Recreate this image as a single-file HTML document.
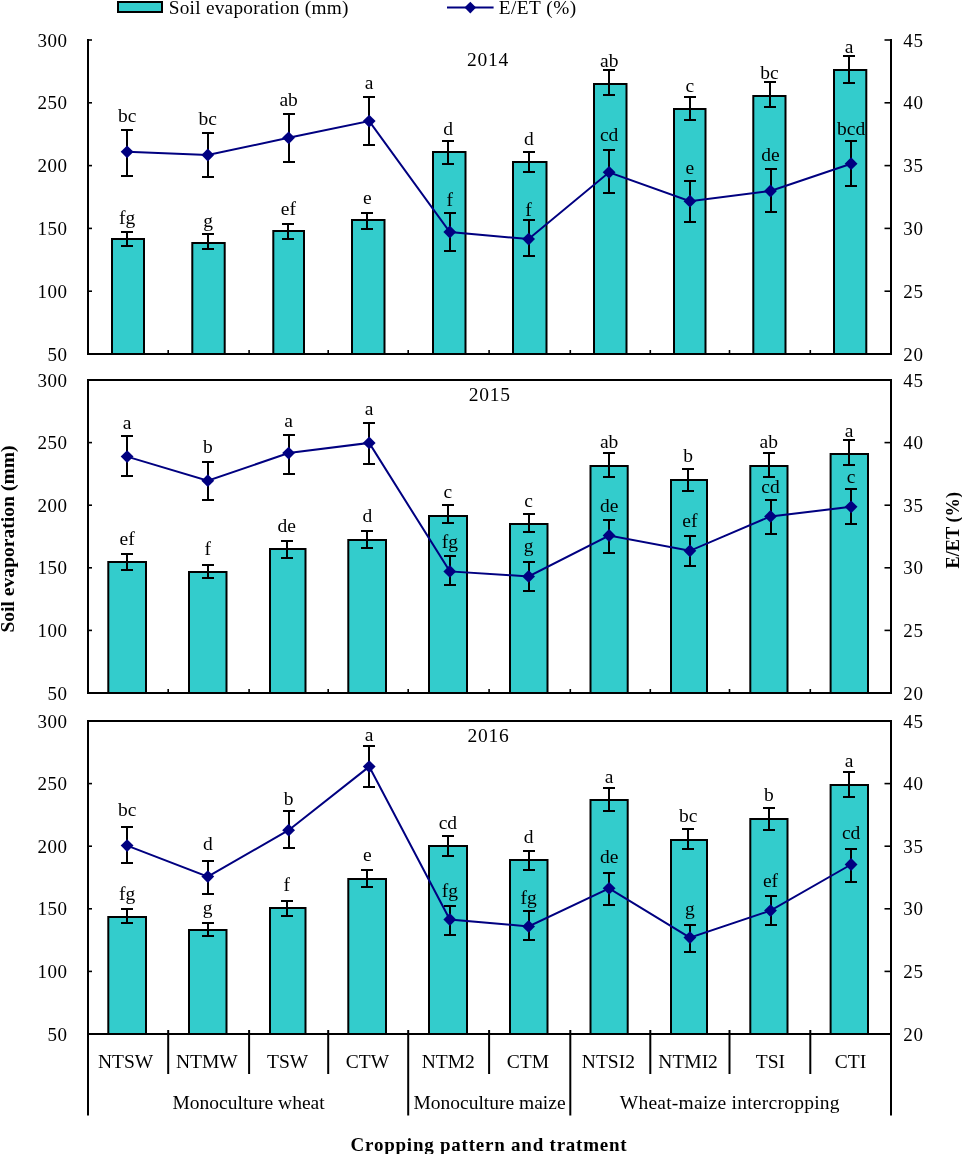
<!DOCTYPE html>
<html><head><meta charset="utf-8"><style>
html,body{margin:0;padding:0;background:#fff;overflow:hidden;}
svg{display:block;will-change:transform;}
text{font-family:"Liberation Serif", serif;fill:#000;}
</style></head><body>
<svg width="962" height="1154" viewBox="0 0 962 1154">
<rect x="0" y="0" width="962" height="1154" fill="#fff"/>
<rect x="112" y="239" width="32" height="115.0" fill="#33CCCC" stroke="#000" stroke-width="2"/>
<rect x="192.3" y="243" width="32.4" height="111.0" fill="#33CCCC" stroke="#000" stroke-width="2"/>
<rect x="273.3" y="231" width="30.7" height="123.0" fill="#33CCCC" stroke="#000" stroke-width="2"/>
<rect x="352" y="220" width="32.5" height="134.0" fill="#33CCCC" stroke="#000" stroke-width="2"/>
<rect x="433" y="152" width="32.5" height="202.0" fill="#33CCCC" stroke="#000" stroke-width="2"/>
<rect x="513" y="162" width="33.5" height="192.0" fill="#33CCCC" stroke="#000" stroke-width="2"/>
<rect x="594" y="84" width="32.5" height="270.0" fill="#33CCCC" stroke="#000" stroke-width="2"/>
<rect x="674" y="109" width="31.5" height="245.0" fill="#33CCCC" stroke="#000" stroke-width="2"/>
<rect x="753.3" y="96" width="32.2" height="258.0" fill="#33CCCC" stroke="#000" stroke-width="2"/>
<rect x="834" y="70" width="32.3" height="284.0" fill="#33CCCC" stroke="#000" stroke-width="2"/>
<line x1="88" y1="39.0" x2="88" y2="355.0" stroke="#000" stroke-width="2"/>
<line x1="891" y1="39.0" x2="891" y2="355.0" stroke="#000" stroke-width="2"/>
<line x1="87" y1="354.0" x2="892" y2="354.0" stroke="#000" stroke-width="2"/>
<line x1="88" y1="40.00" x2="92" y2="40.00" stroke="#000" stroke-width="1.6"/>
<line x1="884.5" y1="40.00" x2="891" y2="40.00" stroke="#000" stroke-width="1.6"/>
<text x="67.7" y="46.50" text-anchor="end" font-size="19" letter-spacing="0.6">300</text>
<text x="903.3" y="46.50" font-size="19" letter-spacing="0.6">45</text>
<line x1="88" y1="102.80" x2="92" y2="102.80" stroke="#000" stroke-width="1.6"/>
<line x1="884.5" y1="102.80" x2="891" y2="102.80" stroke="#000" stroke-width="1.6"/>
<text x="67.7" y="109.30" text-anchor="end" font-size="19" letter-spacing="0.6">250</text>
<text x="903.3" y="109.30" font-size="19" letter-spacing="0.6">40</text>
<line x1="88" y1="165.60" x2="92" y2="165.60" stroke="#000" stroke-width="1.6"/>
<line x1="884.5" y1="165.60" x2="891" y2="165.60" stroke="#000" stroke-width="1.6"/>
<text x="67.7" y="172.10" text-anchor="end" font-size="19" letter-spacing="0.6">200</text>
<text x="903.3" y="172.10" font-size="19" letter-spacing="0.6">35</text>
<line x1="88" y1="228.40" x2="92" y2="228.40" stroke="#000" stroke-width="1.6"/>
<line x1="884.5" y1="228.40" x2="891" y2="228.40" stroke="#000" stroke-width="1.6"/>
<text x="67.7" y="234.90" text-anchor="end" font-size="19" letter-spacing="0.6">150</text>
<text x="903.3" y="234.90" font-size="19" letter-spacing="0.6">30</text>
<line x1="88" y1="291.20" x2="92" y2="291.20" stroke="#000" stroke-width="1.6"/>
<line x1="884.5" y1="291.20" x2="891" y2="291.20" stroke="#000" stroke-width="1.6"/>
<text x="67.7" y="297.70" text-anchor="end" font-size="19" letter-spacing="0.6">100</text>
<text x="903.3" y="297.70" font-size="19" letter-spacing="0.6">25</text>
<line x1="88" y1="354.00" x2="92" y2="354.00" stroke="#000" stroke-width="1.6"/>
<line x1="884.5" y1="354.00" x2="891" y2="354.00" stroke="#000" stroke-width="1.6"/>
<text x="67.7" y="360.50" text-anchor="end" font-size="19" letter-spacing="0.6">50</text>
<text x="903.3" y="360.50" font-size="19" letter-spacing="0.6">20</text>
<line x1="168.20" y1="350.0" x2="168.20" y2="354.0" stroke="#000" stroke-width="1.6"/>
<line x1="249.10" y1="350.0" x2="249.10" y2="354.0" stroke="#000" stroke-width="1.6"/>
<line x1="328.20" y1="350.0" x2="328.20" y2="354.0" stroke="#000" stroke-width="1.6"/>
<line x1="408.20" y1="350.0" x2="408.20" y2="354.0" stroke="#000" stroke-width="1.6"/>
<line x1="489.10" y1="350.0" x2="489.10" y2="354.0" stroke="#000" stroke-width="1.6"/>
<line x1="570.30" y1="350.0" x2="570.30" y2="354.0" stroke="#000" stroke-width="1.6"/>
<line x1="650.30" y1="350.0" x2="650.30" y2="354.0" stroke="#000" stroke-width="1.6"/>
<line x1="729.50" y1="350.0" x2="729.50" y2="354.0" stroke="#000" stroke-width="1.6"/>
<line x1="810.30" y1="350.0" x2="810.30" y2="354.0" stroke="#000" stroke-width="1.6"/>
<text x="488.0" y="65.8" text-anchor="middle" font-size="19.5" letter-spacing="0.75">2014</text>
<path d="M127,232V246M121,232H133M121,246H133" stroke="#000" stroke-width="2" fill="none"/>
<text x="127.10" y="224.20" text-anchor="middle" font-size="19.5">fg</text>
<path d="M208,234V249M202,234H214M202,249H214" stroke="#000" stroke-width="2" fill="none"/>
<text x="208.00" y="227.00" text-anchor="middle" font-size="19.5">g</text>
<path d="M288,224V239M282,224H294M282,239H294" stroke="#000" stroke-width="2" fill="none"/>
<text x="288.40" y="214.70" text-anchor="middle" font-size="19.5">ef</text>
<path d="M367,213V229M361,213H373M361,229H373" stroke="#000" stroke-width="2" fill="none"/>
<text x="367.40" y="204.00" text-anchor="middle" font-size="19.5">e</text>
<path d="M448,141V164M442,141H454M442,164H454" stroke="#000" stroke-width="2" fill="none"/>
<text x="448.00" y="135.40" text-anchor="middle" font-size="19.5">d</text>
<path d="M529,152V172M523,152H535M523,172H535" stroke="#000" stroke-width="2" fill="none"/>
<text x="528.80" y="145.40" text-anchor="middle" font-size="19.5">d</text>
<path d="M609,70V95M603,70H615M603,95H615" stroke="#000" stroke-width="2" fill="none"/>
<text x="609.20" y="67.00" text-anchor="middle" font-size="19.5">ab</text>
<path d="M690,97V120M684,97H696M684,120H696" stroke="#000" stroke-width="2" fill="none"/>
<text x="689.80" y="92.10" text-anchor="middle" font-size="19.5">c</text>
<path d="M770,82V107M764,82H776M764,107H776" stroke="#000" stroke-width="2" fill="none"/>
<text x="769.50" y="78.70" text-anchor="middle" font-size="19.5">bc</text>
<path d="M849,56V83M843,56H855M843,83H855" stroke="#000" stroke-width="2" fill="none"/>
<text x="849.20" y="52.90" text-anchor="middle" font-size="19.5">a</text>
<polyline points="127.10,151.80 207.80,155.00 288.60,137.80 369.20,121.10 449.80,232.00 528.60,239.06 609.10,172.30 689.90,201.20 770.50,191.00 851.10,163.70" fill="none" stroke="#000080" stroke-width="2"/>
<path d="M127,130V176M121,130H133M121,176H133" stroke="#000" stroke-width="2" fill="none"/>
<path d="M120.70,151.80 L127.10,145.40 L133.50,151.80 L127.10,158.20Z" fill="#000080"/>
<text x="127.10" y="121.60" text-anchor="middle" font-size="19.5">bc</text>
<path d="M208,133V177M202,133H214M202,177H214" stroke="#000" stroke-width="2" fill="none"/>
<path d="M201.40,155.00 L207.80,148.60 L214.20,155.00 L207.80,161.40Z" fill="#000080"/>
<text x="207.80" y="125.00" text-anchor="middle" font-size="19.5">bc</text>
<path d="M289,114V162M283,114H295M283,162H295" stroke="#000" stroke-width="2" fill="none"/>
<path d="M282.20,137.80 L288.60,131.40 L295.00,137.80 L288.60,144.20Z" fill="#000080"/>
<text x="288.60" y="106.20" text-anchor="middle" font-size="19.5">ab</text>
<path d="M369,97V145M363,97H375M363,145H375" stroke="#000" stroke-width="2" fill="none"/>
<path d="M362.80,121.10 L369.20,114.70 L375.60,121.10 L369.20,127.50Z" fill="#000080"/>
<text x="369.20" y="89.00" text-anchor="middle" font-size="19.5">a</text>
<path d="M450,213V251M444,213H456M444,251H456" stroke="#000" stroke-width="2" fill="none"/>
<path d="M443.40,232.00 L449.80,225.60 L456.20,232.00 L449.80,238.40Z" fill="#000080"/>
<text x="449.80" y="206.00" text-anchor="middle" font-size="19.5">f</text>
<path d="M529,220V256M523,220H535M523,256H535" stroke="#000" stroke-width="2" fill="none"/>
<path d="M522.20,239.06 L528.60,232.66 L535.00,239.06 L528.60,245.46Z" fill="#000080"/>
<text x="528.60" y="216.00" text-anchor="middle" font-size="19.5">f</text>
<path d="M609,150V193M603,150H615M603,193H615" stroke="#000" stroke-width="2" fill="none"/>
<path d="M602.70,172.30 L609.10,165.90 L615.50,172.30 L609.10,178.70Z" fill="#000080"/>
<text x="609.10" y="141.30" text-anchor="middle" font-size="19.5">cd</text>
<path d="M690,181V222M684,181H696M684,222H696" stroke="#000" stroke-width="2" fill="none"/>
<path d="M683.50,201.20 L689.90,194.80 L696.30,201.20 L689.90,207.60Z" fill="#000080"/>
<text x="689.90" y="174.20" text-anchor="middle" font-size="19.5">e</text>
<path d="M771,169V212M765,169H777M765,212H777" stroke="#000" stroke-width="2" fill="none"/>
<path d="M764.10,191.00 L770.50,184.60 L776.90,191.00 L770.50,197.40Z" fill="#000080"/>
<text x="770.50" y="161.00" text-anchor="middle" font-size="19.5">de</text>
<path d="M851,141V186M845,141H857M845,186H857" stroke="#000" stroke-width="2" fill="none"/>
<path d="M844.70,163.70 L851.10,157.30 L857.50,163.70 L851.10,170.10Z" fill="#000080"/>
<text x="851.10" y="135.30" text-anchor="middle" font-size="19.5">bcd</text>
<rect x="108.3" y="562" width="37.7" height="131.0" fill="#33CCCC" stroke="#000" stroke-width="2"/>
<rect x="189" y="572" width="37.5" height="121.0" fill="#33CCCC" stroke="#000" stroke-width="2"/>
<rect x="270" y="549" width="35.5" height="144.0" fill="#33CCCC" stroke="#000" stroke-width="2"/>
<rect x="348.3" y="540" width="37.7" height="153.0" fill="#33CCCC" stroke="#000" stroke-width="2"/>
<rect x="429" y="516" width="38" height="177.0" fill="#33CCCC" stroke="#000" stroke-width="2"/>
<rect x="510" y="524" width="37.5" height="169.0" fill="#33CCCC" stroke="#000" stroke-width="2"/>
<rect x="590.5" y="466" width="37.2" height="227.0" fill="#33CCCC" stroke="#000" stroke-width="2"/>
<rect x="671" y="480" width="36" height="213.0" fill="#33CCCC" stroke="#000" stroke-width="2"/>
<rect x="750.3" y="466" width="37.2" height="227.0" fill="#33CCCC" stroke="#000" stroke-width="2"/>
<rect x="830.6" y="454" width="37.4" height="239.0" fill="#33CCCC" stroke="#000" stroke-width="2"/>
<line x1="88" y1="379.0" x2="88" y2="694.0" stroke="#000" stroke-width="2"/>
<line x1="891" y1="379.0" x2="891" y2="694.0" stroke="#000" stroke-width="2"/>
<line x1="87" y1="693.0" x2="892" y2="693.0" stroke="#000" stroke-width="2"/>
<line x1="87" y1="380.0" x2="892" y2="380.0" stroke="#000" stroke-width="2"/>
<line x1="88" y1="380.00" x2="92" y2="380.00" stroke="#000" stroke-width="1.6"/>
<line x1="884.5" y1="380.00" x2="891" y2="380.00" stroke="#000" stroke-width="1.6"/>
<text x="67.7" y="386.50" text-anchor="end" font-size="19" letter-spacing="0.6">300</text>
<text x="903.3" y="386.50" font-size="19" letter-spacing="0.6">45</text>
<line x1="88" y1="442.60" x2="92" y2="442.60" stroke="#000" stroke-width="1.6"/>
<line x1="884.5" y1="442.60" x2="891" y2="442.60" stroke="#000" stroke-width="1.6"/>
<text x="67.7" y="449.10" text-anchor="end" font-size="19" letter-spacing="0.6">250</text>
<text x="903.3" y="449.10" font-size="19" letter-spacing="0.6">40</text>
<line x1="88" y1="505.20" x2="92" y2="505.20" stroke="#000" stroke-width="1.6"/>
<line x1="884.5" y1="505.20" x2="891" y2="505.20" stroke="#000" stroke-width="1.6"/>
<text x="67.7" y="511.70" text-anchor="end" font-size="19" letter-spacing="0.6">200</text>
<text x="903.3" y="511.70" font-size="19" letter-spacing="0.6">35</text>
<line x1="88" y1="567.80" x2="92" y2="567.80" stroke="#000" stroke-width="1.6"/>
<line x1="884.5" y1="567.80" x2="891" y2="567.80" stroke="#000" stroke-width="1.6"/>
<text x="67.7" y="574.30" text-anchor="end" font-size="19" letter-spacing="0.6">150</text>
<text x="903.3" y="574.30" font-size="19" letter-spacing="0.6">30</text>
<line x1="88" y1="630.40" x2="92" y2="630.40" stroke="#000" stroke-width="1.6"/>
<line x1="884.5" y1="630.40" x2="891" y2="630.40" stroke="#000" stroke-width="1.6"/>
<text x="67.7" y="636.90" text-anchor="end" font-size="19" letter-spacing="0.6">100</text>
<text x="903.3" y="636.90" font-size="19" letter-spacing="0.6">25</text>
<line x1="88" y1="693.00" x2="92" y2="693.00" stroke="#000" stroke-width="1.6"/>
<line x1="884.5" y1="693.00" x2="891" y2="693.00" stroke="#000" stroke-width="1.6"/>
<text x="67.7" y="699.50" text-anchor="end" font-size="19" letter-spacing="0.6">50</text>
<text x="903.3" y="699.50" font-size="19" letter-spacing="0.6">20</text>
<line x1="168.20" y1="689.0" x2="168.20" y2="693.0" stroke="#000" stroke-width="1.6"/>
<line x1="249.10" y1="689.0" x2="249.10" y2="693.0" stroke="#000" stroke-width="1.6"/>
<line x1="328.20" y1="689.0" x2="328.20" y2="693.0" stroke="#000" stroke-width="1.6"/>
<line x1="408.20" y1="689.0" x2="408.20" y2="693.0" stroke="#000" stroke-width="1.6"/>
<line x1="489.10" y1="689.0" x2="489.10" y2="693.0" stroke="#000" stroke-width="1.6"/>
<line x1="570.30" y1="689.0" x2="570.30" y2="693.0" stroke="#000" stroke-width="1.6"/>
<line x1="650.30" y1="689.0" x2="650.30" y2="693.0" stroke="#000" stroke-width="1.6"/>
<line x1="729.50" y1="689.0" x2="729.50" y2="693.0" stroke="#000" stroke-width="1.6"/>
<line x1="810.30" y1="689.0" x2="810.30" y2="693.0" stroke="#000" stroke-width="1.6"/>
<text x="489.7" y="401.0" text-anchor="middle" font-size="19.5" letter-spacing="0.75">2015</text>
<path d="M127,554V570M121,554H133M121,570H133" stroke="#000" stroke-width="2" fill="none"/>
<text x="127.10" y="544.60" text-anchor="middle" font-size="19.5">ef</text>
<path d="M208,565V578M202,565H214M202,578H214" stroke="#000" stroke-width="2" fill="none"/>
<text x="207.70" y="555.00" text-anchor="middle" font-size="19.5">f</text>
<path d="M287,541V558M281,541H293M281,558H293" stroke="#000" stroke-width="2" fill="none"/>
<text x="286.80" y="532.20" text-anchor="middle" font-size="19.5">de</text>
<path d="M367,531V548M361,531H373M361,548H373" stroke="#000" stroke-width="2" fill="none"/>
<text x="367.40" y="522.40" text-anchor="middle" font-size="19.5">d</text>
<path d="M448,505V523M442,505H454M442,523H454" stroke="#000" stroke-width="2" fill="none"/>
<text x="447.90" y="498.20" text-anchor="middle" font-size="19.5">c</text>
<path d="M529,514V532M523,514H535M523,532H535" stroke="#000" stroke-width="2" fill="none"/>
<text x="528.50" y="506.90" text-anchor="middle" font-size="19.5">c</text>
<path d="M609,453V477M603,453H615M603,477H615" stroke="#000" stroke-width="2" fill="none"/>
<text x="609.10" y="448.20" text-anchor="middle" font-size="19.5">ab</text>
<path d="M688,469V491M682,469H694M682,491H694" stroke="#000" stroke-width="2" fill="none"/>
<text x="688.10" y="462.30" text-anchor="middle" font-size="19.5">b</text>
<path d="M769,453V477M763,453H775M763,477H775" stroke="#000" stroke-width="2" fill="none"/>
<text x="768.80" y="448.30" text-anchor="middle" font-size="19.5">ab</text>
<path d="M849,440V465M843,440H855M843,465H855" stroke="#000" stroke-width="2" fill="none"/>
<text x="849.20" y="436.60" text-anchor="middle" font-size="19.5">a</text>
<polyline points="127.10,456.60 207.80,480.65 288.60,453.10 369.20,442.90 449.80,571.40 528.60,576.40 609.10,535.50 689.90,550.80 770.50,516.40 851.10,506.80" fill="none" stroke="#000080" stroke-width="2"/>
<path d="M127,436V476M121,436H133M121,476H133" stroke="#000" stroke-width="2" fill="none"/>
<path d="M120.70,456.60 L127.10,450.20 L133.50,456.60 L127.10,463.00Z" fill="#000080"/>
<text x="127.10" y="428.70" text-anchor="middle" font-size="19.5">a</text>
<path d="M208,462V500M202,462H214M202,500H214" stroke="#000" stroke-width="2" fill="none"/>
<path d="M201.40,480.65 L207.80,474.25 L214.20,480.65 L207.80,487.05Z" fill="#000080"/>
<text x="207.80" y="452.90" text-anchor="middle" font-size="19.5">b</text>
<path d="M289,435V474M283,435H295M283,474H295" stroke="#000" stroke-width="2" fill="none"/>
<path d="M282.20,453.10 L288.60,446.70 L295.00,453.10 L288.60,459.50Z" fill="#000080"/>
<text x="288.60" y="426.60" text-anchor="middle" font-size="19.5">a</text>
<path d="M369,423V464M363,423H375M363,464H375" stroke="#000" stroke-width="2" fill="none"/>
<path d="M362.80,442.90 L369.20,436.50 L375.60,442.90 L369.20,449.30Z" fill="#000080"/>
<text x="369.20" y="414.90" text-anchor="middle" font-size="19.5">a</text>
<path d="M450,556V585M444,556H456M444,585H456" stroke="#000" stroke-width="2" fill="none"/>
<path d="M443.40,571.40 L449.80,565.00 L456.20,571.40 L449.80,577.80Z" fill="#000080"/>
<text x="449.80" y="547.70" text-anchor="middle" font-size="19.5">fg</text>
<path d="M529,562V591M523,562H535M523,591H535" stroke="#000" stroke-width="2" fill="none"/>
<path d="M522.20,576.40 L528.60,570.00 L535.00,576.40 L528.60,582.80Z" fill="#000080"/>
<text x="528.60" y="552.40" text-anchor="middle" font-size="19.5">g</text>
<path d="M609,520V553M603,520H615M603,553H615" stroke="#000" stroke-width="2" fill="none"/>
<path d="M602.70,535.50 L609.10,529.10 L615.50,535.50 L609.10,541.90Z" fill="#000080"/>
<text x="609.10" y="512.20" text-anchor="middle" font-size="19.5">de</text>
<path d="M690,536V566M684,536H696M684,566H696" stroke="#000" stroke-width="2" fill="none"/>
<path d="M683.50,550.80 L689.90,544.40 L696.30,550.80 L689.90,557.20Z" fill="#000080"/>
<text x="689.90" y="526.80" text-anchor="middle" font-size="19.5">ef</text>
<path d="M771,500V534M765,500H777M765,534H777" stroke="#000" stroke-width="2" fill="none"/>
<path d="M764.10,516.40 L770.50,510.00 L776.90,516.40 L770.50,522.80Z" fill="#000080"/>
<text x="770.50" y="492.70" text-anchor="middle" font-size="19.5">cd</text>
<path d="M851,489V524M845,489H857M845,524H857" stroke="#000" stroke-width="2" fill="none"/>
<path d="M844.70,506.80 L851.10,500.40 L857.50,506.80 L851.10,513.20Z" fill="#000080"/>
<text x="851.10" y="482.50" text-anchor="middle" font-size="19.5">c</text>
<rect x="108.3" y="917" width="37.7" height="117.0" fill="#33CCCC" stroke="#000" stroke-width="2"/>
<rect x="189" y="930" width="37.5" height="104.0" fill="#33CCCC" stroke="#000" stroke-width="2"/>
<rect x="270" y="908" width="35.5" height="126.0" fill="#33CCCC" stroke="#000" stroke-width="2"/>
<rect x="348.3" y="879" width="37.7" height="155.0" fill="#33CCCC" stroke="#000" stroke-width="2"/>
<rect x="429" y="846" width="38" height="188.0" fill="#33CCCC" stroke="#000" stroke-width="2"/>
<rect x="510" y="860" width="37.5" height="174.0" fill="#33CCCC" stroke="#000" stroke-width="2"/>
<rect x="590.5" y="800" width="37.2" height="234.0" fill="#33CCCC" stroke="#000" stroke-width="2"/>
<rect x="671" y="840" width="36" height="194.0" fill="#33CCCC" stroke="#000" stroke-width="2"/>
<rect x="750.3" y="819" width="37.2" height="215.0" fill="#33CCCC" stroke="#000" stroke-width="2"/>
<rect x="830.6" y="785" width="37.4" height="249.0" fill="#33CCCC" stroke="#000" stroke-width="2"/>
<line x1="88" y1="720.0" x2="88" y2="1035.0" stroke="#000" stroke-width="2"/>
<line x1="891" y1="720.0" x2="891" y2="1035.0" stroke="#000" stroke-width="2"/>
<line x1="87" y1="1034.0" x2="892" y2="1034.0" stroke="#000" stroke-width="2"/>
<line x1="87" y1="721.0" x2="892" y2="721.0" stroke="#000" stroke-width="2"/>
<line x1="88" y1="721.00" x2="92" y2="721.00" stroke="#000" stroke-width="1.6"/>
<line x1="884.5" y1="721.00" x2="891" y2="721.00" stroke="#000" stroke-width="1.6"/>
<text x="67.7" y="727.50" text-anchor="end" font-size="19" letter-spacing="0.6">300</text>
<text x="903.3" y="727.50" font-size="19" letter-spacing="0.6">45</text>
<line x1="88" y1="783.60" x2="92" y2="783.60" stroke="#000" stroke-width="1.6"/>
<line x1="884.5" y1="783.60" x2="891" y2="783.60" stroke="#000" stroke-width="1.6"/>
<text x="67.7" y="790.10" text-anchor="end" font-size="19" letter-spacing="0.6">250</text>
<text x="903.3" y="790.10" font-size="19" letter-spacing="0.6">40</text>
<line x1="88" y1="846.20" x2="92" y2="846.20" stroke="#000" stroke-width="1.6"/>
<line x1="884.5" y1="846.20" x2="891" y2="846.20" stroke="#000" stroke-width="1.6"/>
<text x="67.7" y="852.70" text-anchor="end" font-size="19" letter-spacing="0.6">200</text>
<text x="903.3" y="852.70" font-size="19" letter-spacing="0.6">35</text>
<line x1="88" y1="908.80" x2="92" y2="908.80" stroke="#000" stroke-width="1.6"/>
<line x1="884.5" y1="908.80" x2="891" y2="908.80" stroke="#000" stroke-width="1.6"/>
<text x="67.7" y="915.30" text-anchor="end" font-size="19" letter-spacing="0.6">150</text>
<text x="903.3" y="915.30" font-size="19" letter-spacing="0.6">30</text>
<line x1="88" y1="971.40" x2="92" y2="971.40" stroke="#000" stroke-width="1.6"/>
<line x1="884.5" y1="971.40" x2="891" y2="971.40" stroke="#000" stroke-width="1.6"/>
<text x="67.7" y="977.90" text-anchor="end" font-size="19" letter-spacing="0.6">100</text>
<text x="903.3" y="977.90" font-size="19" letter-spacing="0.6">25</text>
<line x1="88" y1="1034.00" x2="92" y2="1034.00" stroke="#000" stroke-width="1.6"/>
<line x1="884.5" y1="1034.00" x2="891" y2="1034.00" stroke="#000" stroke-width="1.6"/>
<text x="67.7" y="1040.50" text-anchor="end" font-size="19" letter-spacing="0.6">50</text>
<text x="903.3" y="1040.50" font-size="19" letter-spacing="0.6">20</text>
<text x="488.4" y="742.3" text-anchor="middle" font-size="19.5" letter-spacing="0.75">2016</text>
<path d="M127,909V923M121,909H133M121,923H133" stroke="#000" stroke-width="2" fill="none"/>
<text x="127.10" y="899.90" text-anchor="middle" font-size="19.5">fg</text>
<path d="M208,923V936M202,923H214M202,936H214" stroke="#000" stroke-width="2" fill="none"/>
<text x="207.70" y="913.50" text-anchor="middle" font-size="19.5">g</text>
<path d="M287,901V916M281,901H293M281,916H293" stroke="#000" stroke-width="2" fill="none"/>
<text x="286.80" y="890.90" text-anchor="middle" font-size="19.5">f</text>
<path d="M367,870V887M361,870H373M361,887H373" stroke="#000" stroke-width="2" fill="none"/>
<text x="367.40" y="860.80" text-anchor="middle" font-size="19.5">e</text>
<path d="M448,836V856M442,836H454M442,856H454" stroke="#000" stroke-width="2" fill="none"/>
<text x="447.90" y="828.80" text-anchor="middle" font-size="19.5">cd</text>
<path d="M529,851V870M523,851H535M523,870H535" stroke="#000" stroke-width="2" fill="none"/>
<text x="528.50" y="842.70" text-anchor="middle" font-size="19.5">d</text>
<path d="M609,788V811M603,788H615M603,811H615" stroke="#000" stroke-width="2" fill="none"/>
<text x="609.10" y="782.70" text-anchor="middle" font-size="19.5">a</text>
<path d="M688,829V849M682,829H694M682,849H694" stroke="#000" stroke-width="2" fill="none"/>
<text x="688.10" y="822.10" text-anchor="middle" font-size="19.5">bc</text>
<path d="M769,808V830M763,808H775M763,830H775" stroke="#000" stroke-width="2" fill="none"/>
<text x="768.80" y="801.40" text-anchor="middle" font-size="19.5">b</text>
<path d="M849,772V797M843,772H855M843,797H855" stroke="#000" stroke-width="2" fill="none"/>
<text x="849.20" y="767.30" text-anchor="middle" font-size="19.5">a</text>
<polyline points="127.10,845.60 207.80,876.60 288.60,830.20 369.20,766.60 449.80,919.50 528.60,926.40 609.10,888.30 689.90,937.60 770.50,910.60 851.10,864.50" fill="none" stroke="#000080" stroke-width="2"/>
<path d="M127,827V863M121,827H133M121,863H133" stroke="#000" stroke-width="2" fill="none"/>
<path d="M120.70,845.60 L127.10,839.20 L133.50,845.60 L127.10,852.00Z" fill="#000080"/>
<text x="127.10" y="815.50" text-anchor="middle" font-size="19.5">bc</text>
<path d="M208,861V894M202,861H214M202,894H214" stroke="#000" stroke-width="2" fill="none"/>
<path d="M201.40,876.60 L207.80,870.20 L214.20,876.60 L207.80,883.00Z" fill="#000080"/>
<text x="207.80" y="849.70" text-anchor="middle" font-size="19.5">d</text>
<path d="M289,811V848M283,811H295M283,848H295" stroke="#000" stroke-width="2" fill="none"/>
<path d="M282.20,830.20 L288.60,823.80 L295.00,830.20 L288.60,836.60Z" fill="#000080"/>
<text x="288.60" y="804.80" text-anchor="middle" font-size="19.5">b</text>
<path d="M369,746V787M363,746H375M363,787H375" stroke="#000" stroke-width="2" fill="none"/>
<path d="M362.80,766.60 L369.20,760.20 L375.60,766.60 L369.20,773.00Z" fill="#000080"/>
<text x="369.20" y="740.50" text-anchor="middle" font-size="19.5">a</text>
<path d="M450,906V935M444,906H456M444,935H456" stroke="#000" stroke-width="2" fill="none"/>
<path d="M443.40,919.50 L449.80,913.10 L456.20,919.50 L449.80,925.90Z" fill="#000080"/>
<text x="449.80" y="897.20" text-anchor="middle" font-size="19.5">fg</text>
<path d="M529,911V940M523,911H535M523,940H535" stroke="#000" stroke-width="2" fill="none"/>
<path d="M522.20,926.40 L528.60,920.00 L535.00,926.40 L528.60,932.80Z" fill="#000080"/>
<text x="528.60" y="903.80" text-anchor="middle" font-size="19.5">fg</text>
<path d="M609,873V905M603,873H615M603,905H615" stroke="#000" stroke-width="2" fill="none"/>
<path d="M602.70,888.30 L609.10,881.90 L615.50,888.30 L609.10,894.70Z" fill="#000080"/>
<text x="609.10" y="863.00" text-anchor="middle" font-size="19.5">de</text>
<path d="M690,925V952M684,925H696M684,952H696" stroke="#000" stroke-width="2" fill="none"/>
<path d="M683.50,937.60 L689.90,931.20 L696.30,937.60 L689.90,944.00Z" fill="#000080"/>
<text x="689.90" y="914.70" text-anchor="middle" font-size="19.5">g</text>
<path d="M771,896V925M765,896H777M765,925H777" stroke="#000" stroke-width="2" fill="none"/>
<path d="M764.10,910.60 L770.50,904.20 L776.90,910.60 L770.50,917.00Z" fill="#000080"/>
<text x="770.50" y="887.00" text-anchor="middle" font-size="19.5">ef</text>
<path d="M851,849V882M845,849H857M845,882H857" stroke="#000" stroke-width="2" fill="none"/>
<path d="M844.70,864.50 L851.10,858.10 L857.50,864.50 L851.10,870.90Z" fill="#000080"/>
<text x="851.10" y="839.00" text-anchor="middle" font-size="19.5">cd</text>
<line x1="168.20" y1="1030.0" x2="168.20" y2="1074" stroke="#000" stroke-width="2"/>
<line x1="249.10" y1="1030.0" x2="249.10" y2="1074" stroke="#000" stroke-width="2"/>
<line x1="328.20" y1="1030.0" x2="328.20" y2="1074" stroke="#000" stroke-width="2"/>
<line x1="408.20" y1="1030.0" x2="408.20" y2="1115.5" stroke="#000" stroke-width="2"/>
<line x1="489.10" y1="1030.0" x2="489.10" y2="1074" stroke="#000" stroke-width="2"/>
<line x1="570.30" y1="1030.0" x2="570.30" y2="1115.5" stroke="#000" stroke-width="2"/>
<line x1="650.30" y1="1030.0" x2="650.30" y2="1074" stroke="#000" stroke-width="2"/>
<line x1="729.50" y1="1030.0" x2="729.50" y2="1074" stroke="#000" stroke-width="2"/>
<line x1="810.30" y1="1030.0" x2="810.30" y2="1074" stroke="#000" stroke-width="2"/>
<line x1="88" y1="1034.0" x2="88" y2="1115.5" stroke="#000" stroke-width="2"/>
<line x1="891" y1="1034.0" x2="891" y2="1115.5" stroke="#000" stroke-width="2"/>
<text x="125.65" y="1068" text-anchor="middle" font-size="19.5">NTSW</text>
<text x="206.80" y="1068" text-anchor="middle" font-size="19.5">NTMW</text>
<text x="287.60" y="1068" text-anchor="middle" font-size="19.5">TSW</text>
<text x="367.45" y="1068" text-anchor="middle" font-size="19.5">CTW</text>
<text x="448.25" y="1068" text-anchor="middle" font-size="19.5">NTM2</text>
<text x="528.00" y="1068" text-anchor="middle" font-size="19.5">CTM</text>
<text x="608.40" y="1068" text-anchor="middle" font-size="19.5">NTSI2</text>
<text x="688.10" y="1068" text-anchor="middle" font-size="19.5">NTMI2</text>
<text x="770.40" y="1068" text-anchor="middle" font-size="19.5">TSI</text>
<text x="850.55" y="1068" text-anchor="middle" font-size="19.5">CTI</text>
<text x="248.60" y="1109.3" text-anchor="middle" font-size="19.5">Monoculture wheat</text>
<text x="489.50" y="1109.3" text-anchor="middle" font-size="19.5">Monoculture maize</text>
<text x="729.80" y="1109.3" text-anchor="middle" font-size="19.5" letter-spacing="0.25">Wheat-maize intercropping</text>
<text x="489" y="1150.5" text-anchor="middle" font-size="19" font-weight="bold" letter-spacing="0.77">Cropping pattern and tratment</text>
<text transform="translate(14,539) rotate(-90)" text-anchor="middle" font-size="19.6" font-weight="bold">Soil evaporation (mm)</text>
<text transform="translate(958.8,530.3) rotate(-90) scale(0.955,1)" text-anchor="middle" font-size="19.2" font-weight="bold">E/ET (%)</text>
<rect x="118" y="2" width="44" height="10" fill="#33CCCC" stroke="#000" stroke-width="2"/>
<text x="168.7" y="13.6" font-size="19.3" letter-spacing="0.26">Soil evaporation (mm)</text>
<line x1="447" y1="7.6" x2="493.6" y2="7.6" stroke="#000080" stroke-width="2"/>
<path d="M464.5,7.6 L470.3,1.8 L476.1,7.6 L470.3,13.4Z" fill="#000080"/>
<text x="498.7" y="13.6" font-size="19.3" letter-spacing="0.5">E/ET (%)</text>
</svg></body></html>
